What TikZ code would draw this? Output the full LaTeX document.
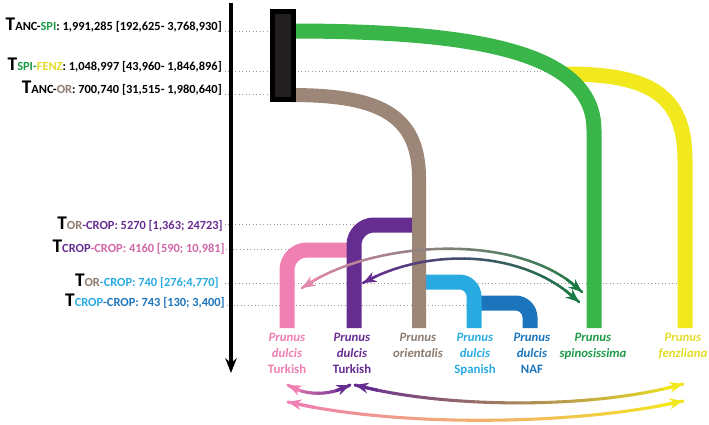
\documentclass[tikz,border=0pt]{standalone}
\usepackage{fontspec}
\setmainfont{Carlito}[Numbers=Lining]
\usetikzlibrary{arrows.meta}
\definecolor{cgreen}{HTML}{3AB54A}
\definecolor{cyellow}{HTML}{F2E81E}
\definecolor{cbrown}{HTML}{9C8677}
\definecolor{cpurple}{HTML}{662D91}
\definecolor{cpink}{HTML}{F07FB2}
\definecolor{clblue}{HTML}{29ABE2}
\definecolor{cdblue}{HTML}{1C75BC}
\definecolor{tgreen}{HTML}{1E9A48}
\definecolor{tbrown}{HTML}{8C7B6E}
\definecolor{tyellow}{HTML}{E2DC2A}
\definecolor{tpink}{HTML}{D066A8}
\definecolor{agreen}{HTML}{1B7A43}
\definecolor{apink}{HTML}{E487AE}
\definecolor{boxfill}{HTML}{231F20}
\newcommand\bigT{{\fontsize{14.5}{14}\selectfont T}}
\newcommand\gradsegs[5]{%
  \foreach \i [evaluate=\i as \pc using {100-\i*2.5}, evaluate=\i as \j using {int(\i+1)}] in {0,...,39}
    {\draw[garr, color=#2!\pc!#3] (#1\i) -- (#1\j);}
  \draw[garr, line cap=butt, color=#2, -{Stealth[length=10pt,width=8pt]}] (#1#4) -- (#10);
  \draw[garr, line cap=butt, color=#3, -{Stealth[length=10pt,width=8pt]}] (#1#5) -- (#140);
}
\begin{document}
\begin{tikzpicture}[x=0.75pt,y=-0.75pt,
  lab/.style={anchor=base east, inner sep=0pt, font=\bfseries\fontsize{9.3}{11}\selectfont},
  dotl/.style={draw=gray!80, dotted, line width=0.6pt},
  bar/.style={line width=11.25pt, line cap=butt},
  sp/.style={anchor=north, inner sep=0pt, align=center, font=\bfseries\fontsize{9.6}{12}\selectfont},
  garr/.style={line width=1.9pt, line cap=round},
  boxst/.style={draw=black, fill=boxfill, line width=3.75pt, minimum width=15.75pt, minimum height=66pt, inner sep=0pt}]
\useasboundingbox (0,0) rectangle (709,424);

% time labels
\node[lab] (t1) at (222,31) {\bigT ANC-\textcolor{tgreen}{SPI}: 1,991,285 [192,625- 3,768,930]};
\node[lab] (t2) at (222,71) {\bigT\textcolor{tgreen}{SPI-}\textcolor{tyellow}{FENZ}: 1,048,997 [43,960- 1,846,896]};
\node[lab] (t3) at (222,94) {\bigT ANC-\textcolor{tbrown}{OR}: 700,740 [31,515- 1,980,640]};
\node[lab] (t4) at (223,229) {\bigT\textcolor{tbrown}{OR}\textcolor{cpurple}{-CROP: 5270 [1,363; 24723]}};
\node[lab] (t5) at (225,252) {\bigT\textcolor{cpurple}{CROP}\textcolor{tpink}{-CROP: 4160 [590; 10,981]}};
\node[lab] (t6) at (219,286) {\bigT\textcolor{tbrown}{OR}\textcolor{clblue}{-CROP: 740 [276;4,770]}};
\node[lab] (t7) at (225,306) {\bigT\textcolor{clblue}{CROP}\textcolor{cdblue}{-CROP: 743 [130; 3,400]}};

% dotted guide lines
\coordinate (d1a) at (225,31);  \coordinate (d1b) at (272,31);
\coordinate (d2a) at (225,71);  \coordinate (d2b) at (558,71);
\coordinate (d3a) at (225,94);  \coordinate (d3b) at (272,94);
\coordinate (d4a) at (225,224); \coordinate (d4b) at (413,224);
\coordinate (d5a) at (226,249); \coordinate (d5b) at (350,249);
\coordinate (d6a) at (225,283); \coordinate (d6b) at (678,283);
\coordinate (d7a) at (227,305); \coordinate (d7b) at (470,305);
\foreach \k in {1,...,7} {\draw[dotl] (d\k a) -- (d\k b);}

% time axis
\coordinate (ax0) at (231,3);
\coordinate (ax1) at (231,373);
\draw[line width=2.5pt, -{Stealth[length=11pt,width=8.5pt]}] (ax0) -- (ax1);

% tree branches
\coordinate (g0) at (290,31);
\coordinate (g1) at (594,328);
\coordinate (y0) at (566,74);
\coordinate (y1) at (685,328);
\coordinate (b0) at (290,95);
\coordinate (b1) at (419,328);
\coordinate (p0) at (350,250);
\coordinate (p1) at (287,328);
\coordinate (u0) at (413,225);
\coordinate (u1) at (354,328);
\coordinate (l0) at (419,282);
\coordinate (l1) at (474,328);
\coordinate (n0) at (474,303);
\coordinate (n1) at (530,328);

\draw[bar, cyellow] (y0) .. controls (650,74) and (685,95) .. (685,160) -- (y1);
\draw[bar, cgreen] (g0) .. controls (470,31) and (594,50) .. (594,130) -- (g1);
\draw[bar, cpink, rounded corners=15pt] (p0) -- (p1 |- p0) -- (p1);
\draw[bar, cpurple, rounded corners=15pt] (u0) -- (u1 |- u0) -- (u1);
\draw[bar, cdblue, rounded corners=11pt] (n0) -- (n1 |- n0) -- (n1);
\draw[bar, clblue, rounded corners=11pt] (l0) -- (l1 |- l0) -- (l1);
\draw[bar, cbrown, line width=10.5pt] (b0) .. controls (375,95) and (419,112) .. (419,178) -- (b1);

\node[boxst] (box) at (283,55.5) {};

% species labels
\node[sp, text=cpink] (sp1) at (287,333) {\textit{Prunus}\\\textit{dulcis}\\Turkish};
\node[sp, text=cpurple] (sp2) at (352,333) {\textit{Prunus}\\\textit{dulcis}\\Turkish};
\node[sp, text=tbrown] (sp3) at (418,333) {\textit{Prunus}\\\textit{orientalis}};
\node[sp, text=clblue] (sp4) at (475,333) {\textit{Prunus}\\\textit{dulcis}\\Spanish};
\node[sp, text=cdblue] (sp5) at (532,333) {\textit{Prunus}\\\textit{dulcis}\\NAF};
\node[sp, text=tgreen] (sp6) at (593,333) {\textit{Prunus}\\\textit{spinosissima}};
\node[sp, text=tyellow] (sp7) at (683,333) {\textit{Prunus}\\\textit{fenzliana}};

% gene-flow arrows (middle)
\coordinate (aL) at (302,288); \coordinate (aR) at (582,292);
\coordinate (bL) at (363,283); \coordinate (bR) at (579,302);
\path (aL) .. controls (370,240) and (520,230) .. (aR)
  \foreach \i [evaluate=\i as \tt using \i/40] in {0,...,40} {coordinate[pos=\tt] (ga\i)};
\gradsegs{ga}{apink}{agreen}{3}{37}
\path (bL) .. controls (420,250) and (520,245) .. (bR)
  \foreach \i [evaluate=\i as \tt using \i/40] in {0,...,40} {coordinate[pos=\tt] (gb\i)};
\gradsegs{gb}{cpurple}{agreen}{3}{37}

% gene-flow arrows (bottom)
\begin{scope}[garr/.style={line width=2.3pt, line cap=round}]
\coordinate (c1L) at (288,385); \coordinate (c1R) at (350,385);
\coordinate (c2L) at (355,385); \coordinate (c2R) at (683,384);
\coordinate (c3L) at (288,402); \coordinate (c3R) at (683,401);
\path (c1L) .. controls (305,396) and (330,396) .. (c1R)
  \foreach \i [evaluate=\i as \tt using \i/40] in {0,...,40} {coordinate[pos=\tt] (gc\i)};
\gradsegs{gc}{cpink}{cpurple}{9}{31}
\path (c2L) .. controls (450,410) and (600,408) .. (c2R)
  \foreach \i [evaluate=\i as \tt using \i/40] in {0,...,40} {coordinate[pos=\tt] (gd\i)};
\gradsegs{gd}{cpurple}{cyellow}{3}{37}
\path (c3L) .. controls (400,428) and (580,425) .. (c3R)
  \foreach \i [evaluate=\i as \tt using \i/40] in {0,...,40} {coordinate[pos=\tt] (ge\i)};
\gradsegs{ge}{cpink}{cyellow}{3}{37}
\end{scope}
\end{tikzpicture}
\end{document}
